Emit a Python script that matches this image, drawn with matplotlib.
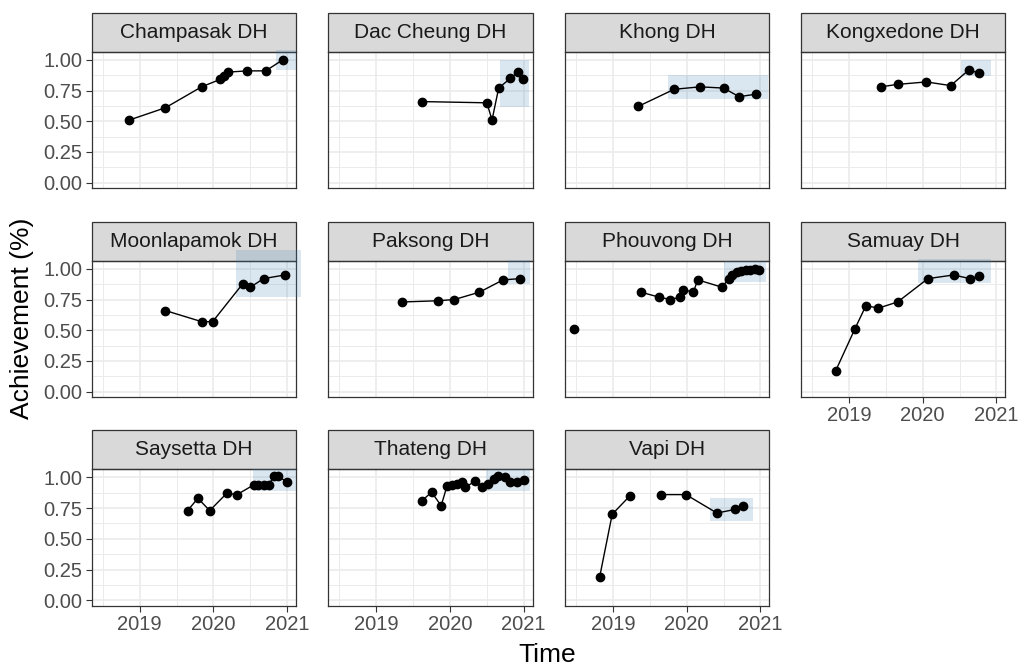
import numpy as np
import matplotlib.pyplot as plt
from matplotlib.patches import Rectangle

plt.rcParams['font.family'] = ['Liberation Sans', 'DejaVu Sans']

nan = np.nan

# time as decimal year, achievement as fraction
champasak_t = [2018.86, 2019.35, 2019.84, 2020.09, 2020.15, 2020.20, 2020.46, 2020.71, 2020.94]
champasak_v = [0.51, 0.61, 0.78, 0.84, 0.87, 0.90, 0.91, 0.91, 1.00]

daccheung_t = [2019.62, 2020.50, 2020.57, 2020.66, 2020.82, 2020.92, 2020.99]
daccheung_v = [0.66, 0.65, 0.51, 0.77, 0.85, 0.90, 0.84]

khong_t = [2019.34, 2019.83, 2020.18, 2020.50, 2020.71, 2020.94]
khong_v = [0.62, 0.76, 0.78, 0.77, 0.70, 0.72]

kongxedone_t = [2019.43, 2019.66, 2020.05, 2020.38, 2020.63, 2020.76]
kongxedone_v = [0.78, 0.80, 0.82, 0.79, 0.92, 0.89]

moonlapamok_t = [2019.35, 2019.84, 2019.99, 2020.40, 2020.50, 2020.68, 2020.97]
moonlapamok_v = [0.66, 0.57, 0.57, 0.88, 0.85, 0.92, 0.95]

paksong_t = [2019.35, 2019.84, 2020.06, 2020.40, 2020.72, 2020.95]
paksong_v = [0.73, 0.74, 0.75, 0.81, 0.91, 0.92]

phouvong_t = [2018.47, 2018.90, 2019.38, 2019.62, 2019.78, 2019.91, 2019.95, 2020.09, 2020.15,
              2020.48, 2020.57, 2020.62, 2020.68, 2020.74, 2020.80, 2020.86, 2020.92, 2020.98]
phouvong_v = [0.51, nan, 0.81, 0.77, 0.75, 0.77, 0.83, 0.81, 0.91,
              0.85, 0.92, 0.95, 0.97, 0.98, 0.99, 0.99, 1.00, 0.99]

samuay_t = [2018.82, 2019.08, 2019.23, 2019.40, 2019.66, 2020.07, 2020.42, 2020.64, 2020.76]
samuay_v = [0.17, 0.51, 0.70, 0.68, 0.73, 0.92, 0.95, 0.92, 0.94]

saysetta_t = [2019.65, 2019.79, 2019.95, 2020.18, 2020.32, 2020.55, 2020.61, 2020.68,
              2020.75, 2020.82, 2020.88, 2021.00]
saysetta_v = [0.73, 0.83, 0.73, 0.87, 0.86, 0.94, 0.94, 0.94, 0.94, 1.01, 1.01, 0.96]

thateng_t = [2019.62, 2019.75, 2019.88, 2019.96, 2020.03, 2020.09, 2020.16, 2020.21, 2020.34,
             2020.43, 2020.52, 2020.59, 2020.65, 2020.75, 2020.82, 2020.91, 2021.00]
thateng_v = [0.81, 0.88, 0.77, 0.93, 0.94, 0.95, 0.96, 0.92, 0.97,
             0.92, 0.95, 0.99, 1.01, 1.00, 0.96, 0.96, 0.98]

vapi_t = [2018.82, 2018.99, 2019.23, 2019.45, 2019.65, 2019.99, 2020.41, 2020.66, 2020.77]
vapi_v = [0.19, 0.70, 0.85, nan, 0.86, 0.86, 0.71, 0.74, 0.77]

facet_names = ['Champasak DH', 'Dac Cheung DH', 'Khong DH', 'Kongxedone DH',
               'Moonlapamok DH', 'Paksong DH', 'Phouvong DH', 'Samuay DH',
               'Saysetta DH', 'Thateng DH', 'Vapi DH']
facet_data = [(champasak_t, champasak_v), (daccheung_t, daccheung_v), (khong_t, khong_v),
              (kongxedone_t, kongxedone_v), (moonlapamok_t, moonlapamok_v),
              (paksong_t, paksong_v), (phouvong_t, phouvong_v), (samuay_t, samuay_v),
              (saysetta_t, saysetta_v), (thateng_t, thateng_v), (vapi_t, vapi_v)]
# highlighted window: xmin, xmax, ymin, ymax
highlight = [(2020.85, 2021.12, 0.915, 1.08), (2020.68, 2021.07, 0.615, 1.00),
             (2019.74, 2021.10, 0.68, 0.875), (2020.52, 2020.93, 0.866, 1.00),
             (2020.30, 2021.19, 0.77, 1.15), (2020.78, 2021.08, 0.88, 1.07),
             (2020.50, 2021.08, 0.89, 1.06), (2019.93, 2020.93, 0.885, 1.077),
             (2020.54, 2021.12, 0.89, 1.066), (2020.49, 2021.08, 0.89, 1.066),
             (2020.31, 2020.90, 0.645, 0.836)]

year_ticks = [2019, 2020, 2021]
pct_ticks = [0.0, 0.25, 0.5, 0.75, 1.0]
pct_labels = ['0.00', '0.25', '0.50', '0.75', '1.00']

W, H = 1021, 666
fig = plt.figure(figsize=(W / 100, H / 100), dpi=100)

col_left = [91.7, 328.3, 565, 801]
row_top = [51.7, 260.7, 469.3]
pw, ph, sh = 204.3, 136.5, 39

for i, name in enumerate(facet_names):
    r, c = divmod(i, 4)
    ax = fig.add_axes([col_left[c] / W, 1 - (row_top[r] + ph) / H, pw / W, ph / H])
    t, v = facet_data[i]
    x0, x1, y0, y1 = highlight[i]

    ax.set_xlim(2018.35, 2021.12)
    ax.set_ylim(-0.045, 1.066)
    ax.set_xticks(year_ticks)
    ax.set_xticks([2018.5, 2019.5, 2020.5], minor=True)
    ax.set_yticks(pct_ticks)
    ax.set_yticklabels(pct_labels)
    ax.set_yticks([0.125, 0.375, 0.625, 0.875], minor=True)
    ax.set_axisbelow(True)
    ax.grid(which='major', color='#EBEBEB', lw=1.2)
    ax.grid(which='minor', color='#EBEBEB', lw=0.7)
    for s in ax.spines.values():
        s.set_color('#333333')
        s.set_linewidth(0.9)

    # strip
    ax.add_patch(Rectangle((0, 1), 1, sh / ph, transform=ax.transAxes, clip_on=False,
                           facecolor='#D9D9D9', edgecolor='#333333', lw=0.9, zorder=2.5))
    ax.text(0.5, 1 + sh / ph / 2, name, transform=ax.transAxes, ha='center', va='center',
            fontsize=15, color='#1A1A1A', zorder=2.6)

    ax.add_patch(Rectangle((x0, y0), x1 - x0, y1 - y0, facecolor='steelblue', alpha=0.2,
                           lw=0, clip_on=False, zorder=3))
    ax.plot(t, v, color='black', lw=1.0, zorder=4, clip_on=False)
    ax.plot(t, v, 'o', color='black', ms=6, zorder=5, clip_on=False)

    ax.tick_params(which='minor', length=0)
    ax.tick_params(which='major', direction='out', length=4, width=0.8, color='#333333',
                   labelcolor='#4D4D4D', labelsize=14.5, pad=2.5)
    if c != 0:
        ax.tick_params(axis='y', left=False, labelleft=False)
    if not (r == 2 or i == 7):
        ax.tick_params(axis='x', bottom=False, labelbottom=False)

fig.text(547 / W, 1 - 655 / H, 'Time', ha='center', va='center', fontsize=19)
fig.text(22 / W, 1 - 318 / H, 'Achievement (%)', ha='center', va='center',
         rotation=90, fontsize=19)

fig.savefig('out.png', dpi=100)
